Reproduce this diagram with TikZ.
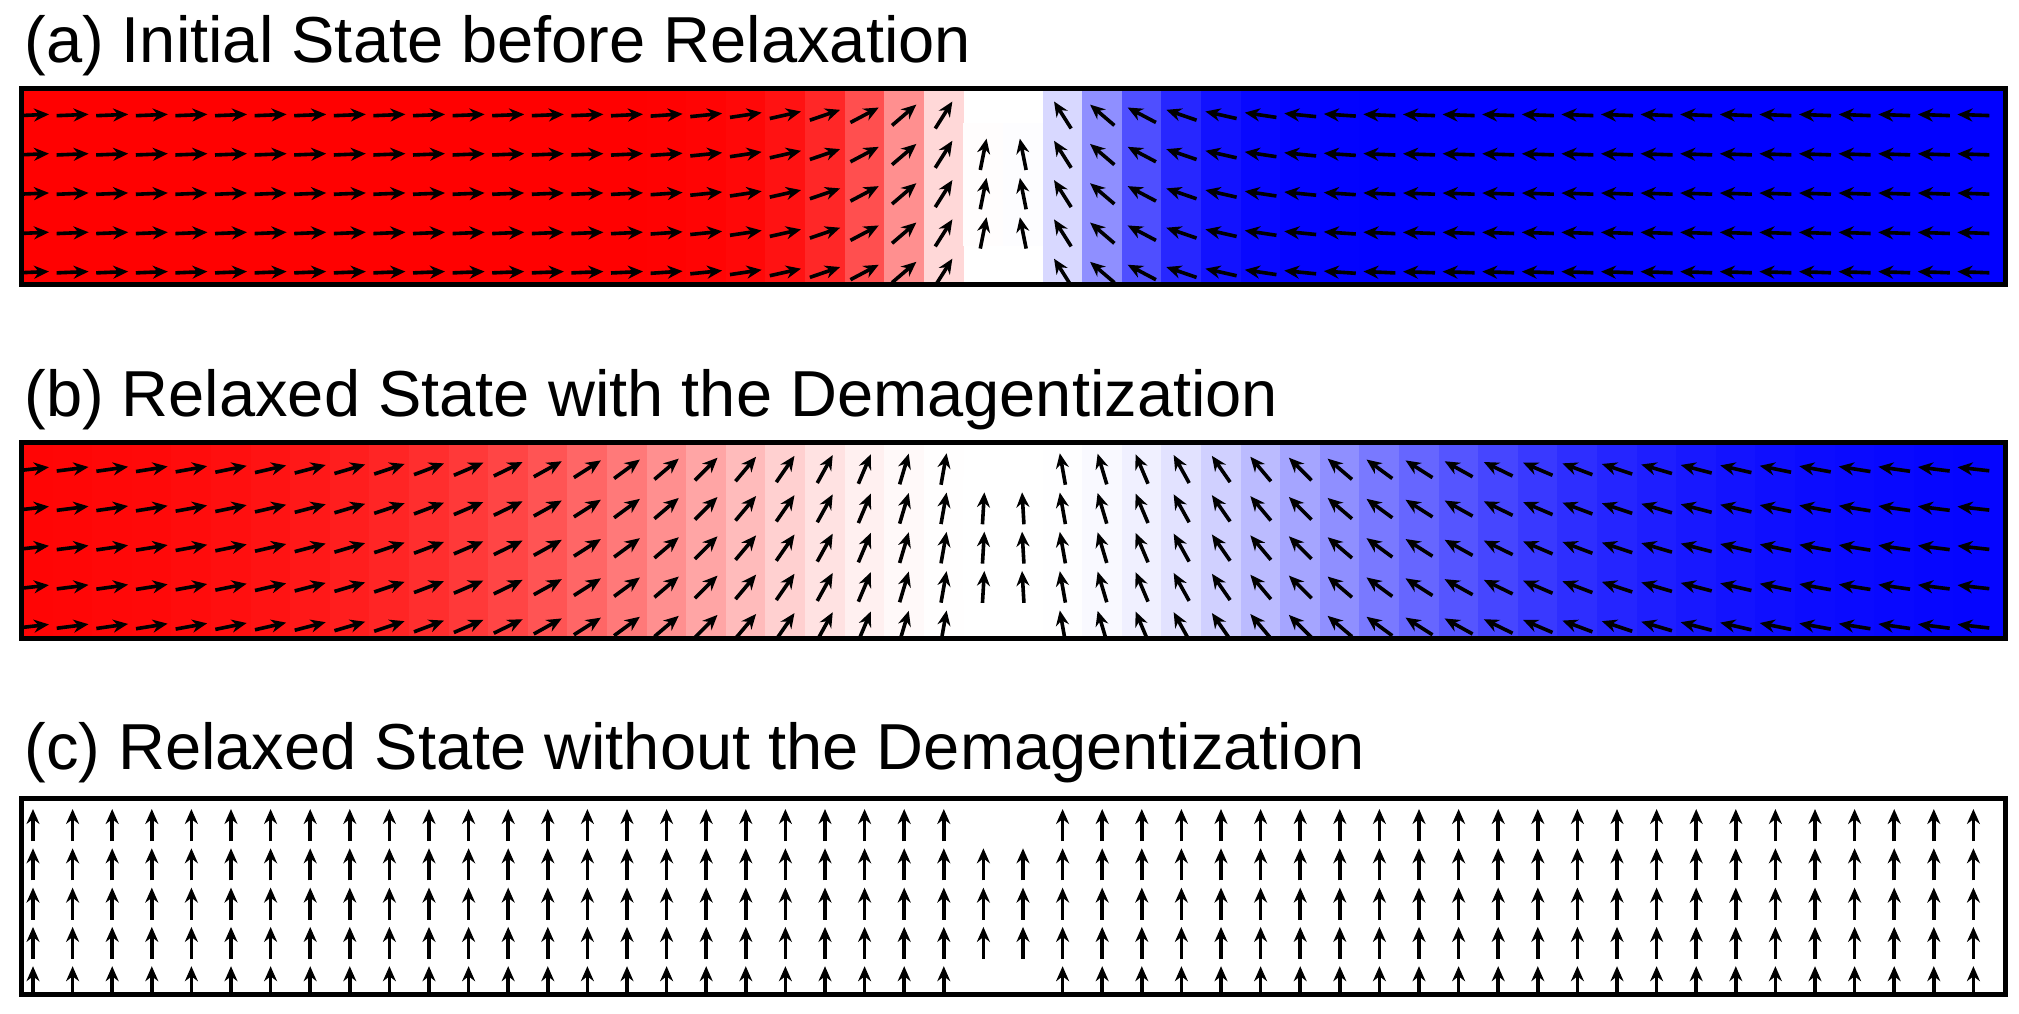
\documentclass[tikz,border=0pt]{standalone}
\usepackage{fontspec}
\setmainfont{Liberation Sans}
\usetikzlibrary{arrows.meta}
\tikzset{spin/.style={line width=1.8pt,-{Stealth[length=7.5pt,width=6.5pt]}},
  frame/.style={draw,line width=2.5pt},
  title/.style={anchor=base west,inner sep=0pt,font=\fontsize{32.5}{38}\selectfont}}
% one strip: #1 = top, #2 = wall width (0 = all up)
\newcommand{\drawstrip}[2]{%
  \begin{scope}
    \clip (21,#1) rectangle (2005,#1+196);
    \foreach \i in {0,...,49}{
      \pgfmathsetmacro\ua{max(-4,min(4,(\i-24.5)/(#2+0.01)))}
      \pgfmathsetmacro\ea{exp(2*\ua)}
      \pgfmathsetmacro\mx{ifthenelse(#2==0,0,-(\ea-1)/(\ea+1))}
      \pgfmathsetmacro\my{sqrt(max(0,1-\mx*\mx))}
      \pgfmathsetmacro\cs{\mx*\mx*\mx}
      \pgfmathsetmacro\rr{min(1,1+\cs)}
      \pgfmathsetmacro\gg{1-abs(\cs)}
      \pgfmathsetmacro\bb{min(1,1-\cs)}
      \definecolor{cell}{rgb}{\rr,\gg,\bb}
      \pgfmathsetmacro\cx{33+39.6*\i}
      \pgfmathsetmacro\cr{\cx+ifthenelse(\i==49,40,20)}
      \pgfmathtruncatemacro\hole{(\i==24)||(\i==25)}
      \ifnum\hole=1
        \fill[cell] (\cx-20,#1+35) rectangle (\cr,#1+158);
      \else
        \fill[cell] (\cx-20,#1) rectangle (\cr,#1+196);
      \fi
      \foreach \j in {0,...,4}{
        \pgfmathtruncatemacro\skip{\hole==1 && (\j==0 || \j==4)}
        \ifnum\skip=0
          \pgfmathsetmacro\cy{#1+27+39.3*\j}
          \draw[spin] (\cx-16*\mx,\cy+16*\my) -- (\cx+16*\mx,\cy-16*\my);
        \fi
      }
    }
  \end{scope}
  \draw[frame] (21,#1) rectangle (2005,#1+196);
}
\begin{document}
\begin{tikzpicture}[x=0.5pt,y=-0.5pt]
  \useasboundingbox (0,0) rectangle (2019,1013);
  \node[title] (ta) at (24,62) {(a) Initial State before Relaxation};
  \drawstrip{88}{2.5}
  \node[title] (tb) at (24,416) {(b) Relaxed State with the Demagentization};
  \drawstrip{442}{8.5}
  \node[title] (tc) at (24,769) {(c) Relaxed State without the Demagentization};
  \drawstrip{798}{0}
\end{tikzpicture}
\end{document}
